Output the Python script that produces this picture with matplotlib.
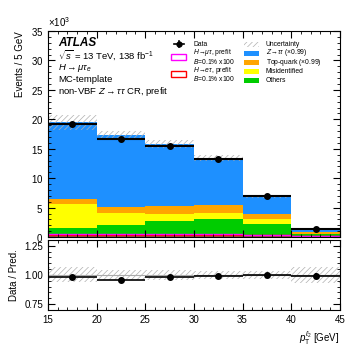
import numpy as np
import matplotlib
matplotlib.use("Agg")
import matplotlib.pyplot as plt
from matplotlib.ticker import MultipleLocator, ScalarFormatter
from matplotlib.patches import Rectangle
from matplotlib.lines import Line2D

plt.rcParams['font.family'] = ['Liberation Sans', 'DejaVu Sans']
plt.rcParams['mathtext.fontset'] = 'custom'
plt.rcParams['mathtext.rm'] = 'Liberation Sans'
plt.rcParams['mathtext.it'] = 'Liberation Sans:italic'
plt.rcParams['mathtext.bf'] = 'Liberation Sans:bold'
plt.rcParams['hatch.linewidth'] = 0.5

# ---------------- data ----------------
bin_edges = [15, 20, 25, 30, 35, 40, 45]
others = [1530, 2100, 2670, 3060, 2300, 450]
misid = [4140, 1930, 1300, 1080, 700, 150]
topquark = [790, 1020, 1250, 1300, 970, 300]
ztautau = [13040, 12300, 10580, 8010, 2980, 470]
data = [19150, 16600, 15480, 13330, 6920, 1360]
rel_unc = [0.065, 0.043, 0.040, 0.035, 0.035, 0.07]
sig_mutau = [450, 450, 450, 450, 420, 200]
sig_etau = [400, 400, 400, 400, 380, 180]
other_base = [300, 300, 300, 300, 300, 120]

edges = np.array(bin_edges, dtype=float)
centers = 0.5 * (edges[1:] + edges[:-1])
halfw = 0.5 * np.diff(edges)

fig = plt.figure(figsize=(3.57, 3.57), dpi=100)
ax1 = fig.add_axes([0.134, 0.336, 0.818, 0.577])
ax2 = fig.add_axes([0.134, 0.132, 0.818, 0.196], sharex=ax1)

c_other = '#00cc00'
c_mis = '#ffff00'
c_top = '#ffa500'
c_z = '#1e90ff'
c_hatch = '#b0b0b0'

layers = [(others, c_other), (misid, c_mis), (topquark, c_top), (ztautau, c_z)]
base = np.zeros(6)
for vals, col in layers:
    v = np.array(vals, dtype=float)
    ax1.stairs(base + v, edges, baseline=base, fill=True, color=col, lw=0)
    base = base + v
total = base

# small bottom band and signal outlines
ax1.stairs(np.array(other_base, float), edges, baseline=0, fill=True, color='#8a5a48', lw=0)
ax1.stairs(sig_etau, edges, baseline=0, color='red', lw=1.0)
ax1.stairs(sig_mutau, edges, baseline=0, color='magenta', lw=1.0)

# uncertainty band
ru = np.array(rel_unc)
ax1.stairs(total * (1 + ru), edges, baseline=total * (1 - ru), fill=True,
           facecolor='none', edgecolor=c_hatch, hatch='//////', lw=0)

dat = np.array(data, dtype=float)
ax1.errorbar(centers, dat, xerr=halfw, yerr=np.sqrt(dat), fmt='o', color='black',
             ms=4, elinewidth=1.5, capsize=0, zorder=5)

ax1.set_xlim(15, 45)
ax1.set_ylim(0, 35000)
ax1.yaxis.set_major_locator(MultipleLocator(5000))
ax1.yaxis.set_minor_locator(MultipleLocator(1000))
ax1.xaxis.set_major_locator(MultipleLocator(5))
ax1.xaxis.set_minor_locator(MultipleLocator(1))
fmt = ScalarFormatter(useMathText=True)
fmt.set_powerlimits((3, 3))
ax1.yaxis.set_major_formatter(fmt)
ax1.yaxis.get_offset_text().set_fontsize(7)
plt.setp(ax1.get_xticklabels(), visible=False)
ax1.set_ylabel('Events / 5 GeV', fontsize=7, loc='top')

# ratio
ax2.axhline(1.0, color='#aaaaaa', lw=0.8)
ax2.stairs(1 + ru, edges, baseline=1 - ru, fill=True, facecolor='none',
           edgecolor=c_hatch, hatch='//////', lw=0)
ratio = dat / total
ax2.errorbar(centers, ratio, xerr=halfw, yerr=np.sqrt(dat) / total, fmt='o', color='black',
             ms=4, elinewidth=1.2, capsize=0, zorder=5)
ax2.set_ylim(0.7, 1.3)
ax2.yaxis.set_major_locator(MultipleLocator(0.25))
ax2.yaxis.set_minor_locator(MultipleLocator(0.05))
ax2.yaxis.set_major_formatter(matplotlib.ticker.FormatStrFormatter('%.2f'))
ax2.set_ylabel('Data / Pred.', fontsize=7)
ax2.set_xlabel(r'$p_{\mathrm{T}}^{\ell_2}$ [GeV]', fontsize=7, loc='right')

for ax in (ax1, ax2):
    ax.tick_params(which='both', direction='in', top=True, right=True, labelsize=7)
    ax.tick_params(which='major', length=5, width=0.8)
    ax.tick_params(which='minor', length=2.5, width=0.6)
    for s in ax.spines.values():
        s.set_linewidth(0.8)

fig.align_ylabels([ax1, ax2])

# texts
def fx(px):
    return px / 357.0

def fy(py):
    return 1 - py / 357.0

fig.text(fx(58), fy(43), 'ATLAS', fontsize=8.5, fontweight='bold', fontstyle='italic', va='center')
fig.text(fx(58), fy(55.5), r'$\sqrt{s}$ = 13 TeV, 138 fb$^{-1}$', fontsize=6.8, va='center')
fig.text(fx(58), fy(67.5), r'$H\rightarrow\mu\tau_{e}$', fontsize=6.8, va='center')
fig.text(fx(58), fy(79.5), 'MC-template', fontsize=6.8, va='center')
fig.text(fx(58), fy(91), r'non-VBF $Z\rightarrow\tau\tau$ CR, prefit', fontsize=6.8, va='center')

lfs = 4.9
# column 1
fig.add_artist(Line2D([fx(179)], [fy(44)], marker='o', color='black', ms=3.5, transform=fig.transFigure))
fig.add_artist(Line2D([fx(174), fx(184)], [fy(44), fy(44)], color='black', lw=1.2, transform=fig.transFigure))
fig.add_artist(Line2D([fx(179), fx(179)], [fy(41), fy(47)], color='black', lw=1.2, transform=fig.transFigure))
fig.text(fx(193), fy(44), 'Data', fontsize=lfs, va='center')
fig.add_artist(Rectangle((fx(171), fy(60)), fx(15), 6 / 357, fill=False, edgecolor='magenta', lw=1.0, transform=fig.transFigure))
fig.text(fx(193), fy(52.5), r'$H\!\rightarrow\!\mu\tau$, prefit', fontsize=lfs, va='center')
fig.text(fx(193), fy(61), r'$B$=0.1% x100', fontsize=lfs, va='center')
fig.add_artist(Rectangle((fx(171), fy(77)), fx(15), 6 / 357, fill=False, edgecolor='red', lw=1.0, transform=fig.transFigure))
fig.text(fx(193), fy(70), r'$H\!\rightarrow\!e\tau$, prefit', fontsize=lfs, va='center')
fig.text(fx(193), fy(78.5), r'$B$=0.1% x100', fontsize=lfs, va='center')

# column 2
rows = [('Uncertainty', None, 44), (r'$Z\!\rightarrow\!\tau\tau$ ($\times$0.99)', c_z, 53),
        (r'Top-quark ($\times$0.99)', c_top, 62), ('Misidentified', c_mis, 71.5), ('Others', c_other, 80)]
for lab, col, yy in rows:
    if col is None:
        fig.add_artist(Rectangle((fx(244), fy(yy + 3)), fx(15), 5 / 357, facecolor='none', edgecolor=c_hatch,
                                 hatch='//////', lw=0, transform=fig.transFigure))
    else:
        fig.add_artist(Rectangle((fx(244), fy(yy + 2.5)), fx(15), 5 / 357, facecolor=col, lw=0,
                                 transform=fig.transFigure))
    fig.text(fx(266), fy(yy), lab, fontsize=lfs, va='center')

fig.savefig('out.png', dpi=100)
